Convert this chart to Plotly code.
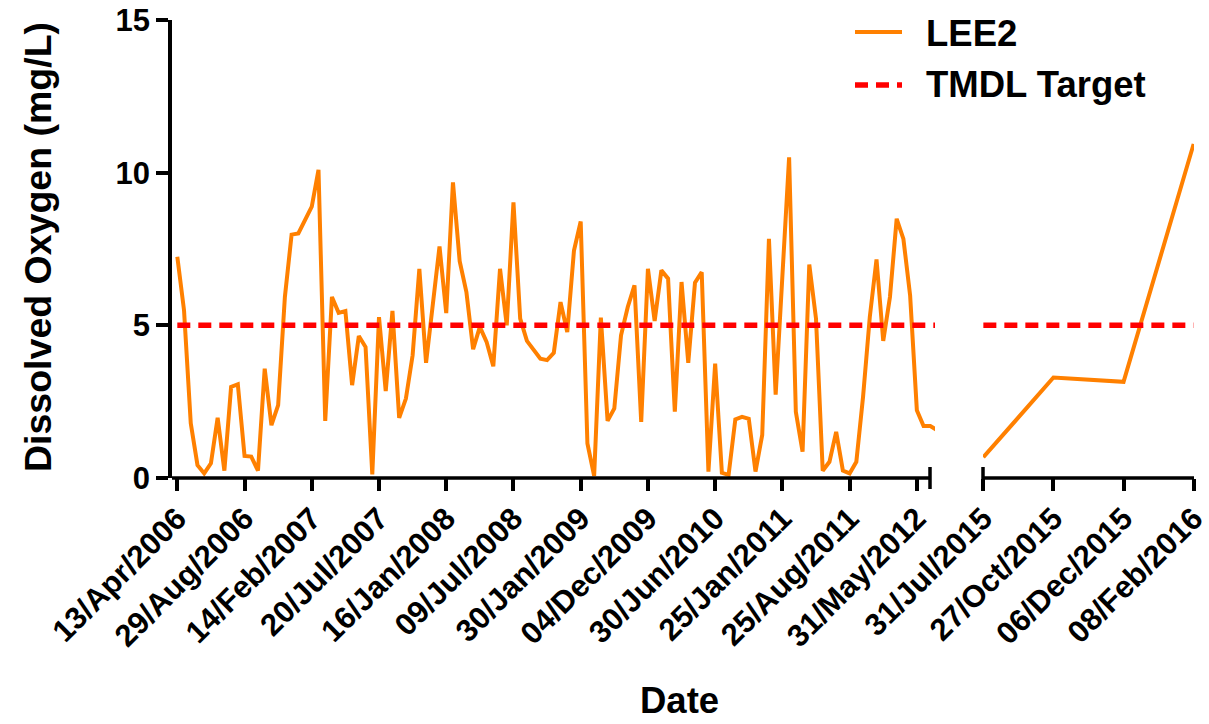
import plotly.graph_objects as go

# Dissolved oxygen at station LEE2, two sampling campaigns (one value per sampling event)
period1_labels = ["13/Apr/2006", "29/Aug/2006", "14/Feb/2007", "20/Jul/2007",
                  "16/Jan/2008", "09/Jul/2008", "30/Jan/2009", "04/Dec/2009",
                  "30/Jun/2010", "25/Jan/2011", "25/Aug/2011", "31/May/2012"]
period1_do = [
    7.25, 5.49, 1.79, 0.42, 0.15, 0.48, 1.97, 0.24, 2.98, 3.07,
    0.72, 0.70, 0.24, 3.58, 1.73, 2.39, 5.93, 7.97, 8.01, 8.43,
    8.89, 10.09, 1.87, 5.93, 5.41, 5.47, 3.04, 4.65, 4.29, 0.12,
    5.27, 2.85, 5.47, 1.97, 2.60, 4.02, 6.85, 3.77, 5.65, 7.58,
    5.40, 9.68, 7.10, 6.09, 4.22, 4.95, 4.46, 3.66, 6.85, 5.00,
    9.03, 5.22, 4.49, 4.18, 3.91, 3.86, 4.10, 5.76, 4.78, 7.45,
    8.40, 1.13, 0.07, 5.25, 1.87, 2.28, 4.67, 5.60, 6.31, 1.84,
    6.85, 5.14, 6.80, 6.53, 2.17, 6.42, 3.77, 6.40, 6.74, 0.21,
    3.75, 0.17, 0.10, 1.92, 2.00, 1.94, 0.21, 1.41, 7.83, 2.73,
    6.60, 10.50, 2.17, 0.86, 6.99, 5.22, 0.24, 0.53, 1.51, 0.24,
    0.15, 0.53, 2.66, 5.27, 7.16, 4.49, 5.93, 8.49, 7.83, 5.98,
    2.22, 1.70, 1.70, 1.57,
]
period2_labels = ["31/Jul/2015", "27/Oct/2015", "06/Dec/2015", "08/Feb/2016"]
period2_do = [0.68, 3.29, 3.15, 10.94]

TMDL_TARGET = 5.0
LABEL_EVERY = 10          # one date label per ten sampling events in the first campaign
y_ticks = [0, 5, 10, 15]

ORANGE = "#FF8000"
RED = "#FF0000"
FONT = "Liberation Sans, Arial, sans-serif"
DOT_DASH = "13px,8px"

# figure geometry (pixels)
W, H = 1209, 724
ML, MR, MT, MB = 172, 15, 20, 246
PW, PH = W - ML - MR, H - MT - MB


def px(x):
    return (x - ML) / PW


def py(y):
    return (H - MB - y) / PH


x1 = list(range(len(period1_do)))
x2 = list(range(len(period2_do)))
tick1 = [i * LABEL_EVERY for i in range(len(period1_labels))]

fig = go.Figure()
fig.add_trace(go.Scatter(x=x1, y=period1_do, mode="lines", name="LEE2",
                         line=dict(color=ORANGE, width=4), xaxis="x", yaxis="y",
                         showlegend=False))
fig.add_trace(go.Scatter(x=[x1[0], x1[-1]], y=[TMDL_TARGET, TMDL_TARGET], mode="lines",
                         name="TMDL Target", line=dict(color=RED, width=5.5, dash=DOT_DASH),
                         xaxis="x", yaxis="y", showlegend=False))
fig.add_trace(go.Scatter(x=x2, y=period2_do, mode="lines", name="LEE2",
                         line=dict(color=ORANGE, width=4), xaxis="x2", yaxis="y2",
                         showlegend=False))
fig.add_trace(go.Scatter(x=[x2[0], x2[-1]], y=[TMDL_TARGET, TMDL_TARGET], mode="lines",
                         name="TMDL Target", line=dict(color=RED, width=5.5, dash=DOT_DASH),
                         xaxis="x2", yaxis="y2", showlegend=False))

tickfont = dict(family=FONT, size=29, color="black", weight="bold")
axis_common = dict(showgrid=False, zeroline=False, ticks="outside", ticklen=12,
                   tickwidth=3.5, tickcolor="black", tickfont=tickfont, automargin=False)
date_axis = dict(axis_common, tickfont=dict(tickfont, size=31), ticklabelstandoff=-3,
                 ticklabeloverflow="allow")

left_end_px = 930
right_start_px = 983

fig.update_layout(
    width=W, height=H,
    margin=dict(l=ML, r=MR, t=MT, b=MB, autoexpand=False),
    paper_bgcolor="white", plot_bgcolor="white",
    showlegend=False,
    xaxis=dict(domain=[0, px(935)], range=[-0.79, 112.7], tickmode="array",
               tickvals=tick1, ticktext=period1_labels, tickangle=-45,
               showline=False, anchor="y", **date_axis),
    xaxis2=dict(domain=[px(right_start_px), 1], range=[-0.005, 3.005], tickmode="array",
                tickvals=x2, ticktext=period2_labels, tickangle=-45,
                showline=False, anchor="y2", **date_axis),
    yaxis=dict(domain=[0, 1], range=[0, 15], tickmode="array", tickvals=y_ticks,
               showline=True, linewidth=3.5, linecolor="black", anchor="x",
               **dict(axis_common, tickfont=dict(tickfont, size=31))),
    yaxis2=dict(domain=[0, 1], range=[0, 15], visible=False, anchor="x2",
                matches="y", automargin=False),
)

axis_line = dict(color="black", width=3.5)
shapes = [
    # x-axis baselines of the two segments
    dict(type="line", xref="paper", yref="paper", x0=0, x1=px(left_end_px), y0=0, y1=0,
         line=axis_line),
    dict(type="line", xref="paper", yref="paper", x0=px(right_start_px), x1=1, y0=0, y1=0,
         line=axis_line),
    # break marks at the gap
    dict(type="line", xref="paper", yref="paper", x0=px(left_end_px), x1=px(left_end_px),
         y0=py(467), y1=py(489), line=axis_line),
    dict(type="line", xref="paper", yref="paper", x0=px(right_start_px), x1=px(right_start_px),
         y0=py(467), y1=py(490), line=axis_line),
    # legend samples
    dict(type="line", xref="paper", yref="paper", x0=px(855), x1=px(902), y0=py(32), y1=py(32),
         line=dict(color=ORANGE, width=4)),
    dict(type="line", xref="paper", yref="paper", x0=px(855), x1=px(902), y0=py(85), y1=py(85),
         line=dict(color=RED, width=5.5, dash=DOT_DASH)),
]
fig.update_layout(shapes=shapes)

title_font = dict(family=FONT, size=36.5, color="black", weight="bold")
annotations = [
    dict(text="LEE2", x=px(924), y=py(34), xref="paper", yref="paper",
         xanchor="left", yanchor="middle", showarrow=False, font=title_font),
    dict(text="TMDL Target", x=px(924), y=py(84), xref="paper", yref="paper",
         xanchor="left", yanchor="middle", showarrow=False, font=title_font),
    dict(text="Dissolved Oxygen (mg/L)", x=px(38), y=py(247), xref="paper", yref="paper",
         xanchor="center", yanchor="middle", textangle=-90, showarrow=False,
         font=dict(title_font, size=37.5)),
    dict(text="Date", x=px(679), y=py(700), xref="paper", yref="paper",
         xanchor="center", yanchor="middle", showarrow=False, font=title_font),
]
fig.update_layout(annotations=annotations)

fig.write_html("out.html")
